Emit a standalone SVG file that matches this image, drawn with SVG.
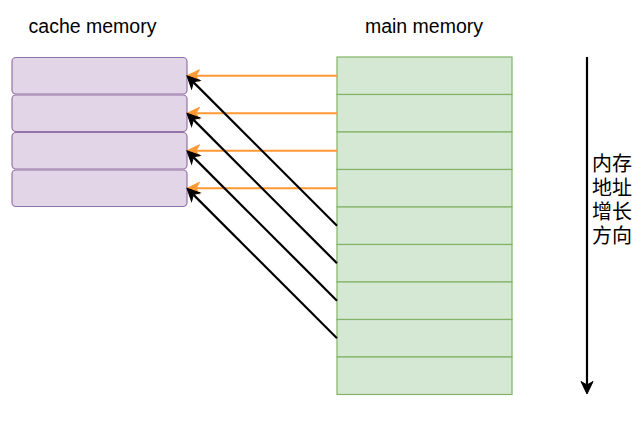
<svg xmlns="http://www.w3.org/2000/svg" width="644" height="423" viewBox="0 0 644 423">
<style>
.cache{fill:#e1d5e7;stroke:#9673a6;stroke-width:1.2}
.mem{fill:#d5e8d4;stroke:#82b366;stroke-width:1.2}
.lbl{font-family:"Liberation Sans",Arial,sans-serif;font-size:19.5px;fill:#000;text-anchor:middle}
.cjk{font-family:"Noto Sans CJK SC","Liberation Sans",sans-serif;font-size:20px;fill:#000}
.orange{stroke:#ff9933;stroke-width:2.2;fill:none;marker-end:url(#ao)}
.black{stroke:#000;stroke-width:2.2;fill:none;marker-end:url(#ab)}
</style>
<defs>
<marker id="ao" markerUnits="userSpaceOnUse" viewBox="-5 -8 16 16" markerWidth="16" markerHeight="16" refX="0" refY="0" orient="auto">
<path d="M9,0 L-3.5,-6 L0,0 L-3.5,6 Z" fill="#ff9933" stroke="#ff9933" stroke-width="1"/>
</marker>
<marker id="ab" markerUnits="userSpaceOnUse" viewBox="-5 -8 16 16" markerWidth="16" markerHeight="16" refX="0" refY="0" orient="auto">
<path d="M9,0 L-3.5,-6 L0,0 L-3.5,6 Z" fill="#000" stroke="#000" stroke-width="1"/>
</marker>
</defs>
<rect width="644" height="423" fill="#fff"/>
<g id="cache-label"><text class="lbl" x="92.5" y="33">cache memory</text></g>
<g id="main-label"><text class="lbl" x="424" y="33">main memory</text></g>
<g id="cache">
<rect class="cache" x="12" y="57.5" width="175" height="36.5" rx="4"/>
<rect class="cache" x="12" y="95" width="175" height="36.5" rx="4"/>
<rect class="cache" x="12" y="132.5" width="175" height="36.5" rx="4"/>
<rect class="cache" x="12" y="170" width="175" height="36.5" rx="4"/>
</g>
<g id="main">
<rect class="mem" x="337" y="57" width="175" height="37.5"/>
<rect class="mem" x="337" y="94.5" width="175" height="37.5"/>
<rect class="mem" x="337" y="132" width="175" height="37.5"/>
<rect class="mem" x="337" y="169.5" width="175" height="37.5"/>
<rect class="mem" x="337" y="207" width="175" height="37.5"/>
<rect class="mem" x="337" y="244.5" width="175" height="37.5"/>
<rect class="mem" x="337" y="282" width="175" height="37.5"/>
<rect class="mem" x="337" y="319.5" width="175" height="37.5"/>
<rect class="mem" x="337" y="357" width="175" height="37.5"/>
</g>
<g id="connectors">
<line class="orange" x1="337" y1="75.75" x2="196" y2="75.75"/>
<line class="orange" x1="337" y1="113.25" x2="196" y2="113.25"/>
<line class="orange" x1="337" y1="150.75" x2="196" y2="150.75"/>
<line class="orange" x1="337" y1="188.25" x2="196" y2="188.25"/>
<line class="black" x1="337" y1="225.75" x2="193.36" y2="82.11"/>
<line class="black" x1="337" y1="263.25" x2="193.36" y2="119.61"/>
<line class="black" x1="337" y1="300.75" x2="193.36" y2="157.11"/>
<line class="black" x1="337" y1="338.25" x2="193.36" y2="194.61"/>
<line class="black" x1="587" y1="57" x2="587" y2="385"/>
</g>
<g id="direction-label">
<text class="cjk"><tspan x="592" y="171">内存</tspan><tspan x="592" y="195">地址</tspan><tspan x="592" y="219">增长</tspan><tspan x="592" y="243">方向</tspan></text>
</g>
</svg>
